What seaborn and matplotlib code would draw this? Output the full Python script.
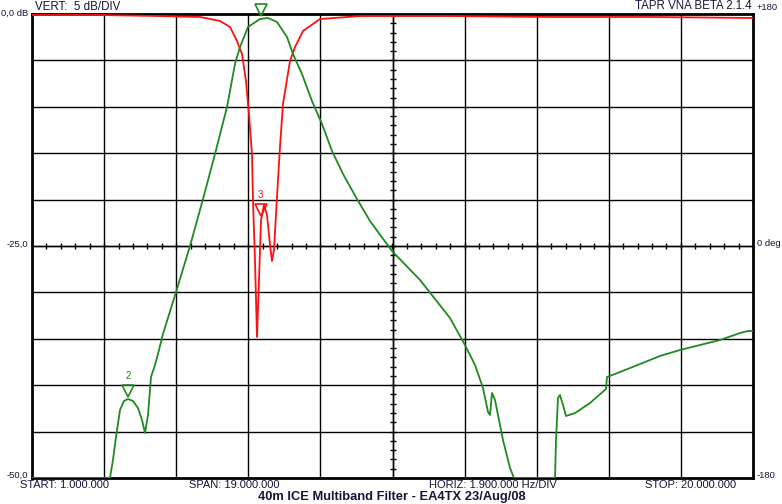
import numpy as np
import pandas as pd
import seaborn as sns
from matplotlib import pyplot as plt

# S21 (transmission) trace, MHz / dB
s21_freq = [1.0, 3.055, 3.134, 3.214, 3.319, 3.424, 3.530, 3.662, 3.793, 3.899, 3.978,
            4.057, 4.136, 4.241, 4.320, 4.452, 4.795, 5.164, 5.506, 5.822, 6.139, 6.349,
            6.481, 6.692, 7.008, 7.219, 7.456, 7.720, 7.878, 8.115, 8.379, 8.642, 8.906,
            9.196, 9.565, 9.907, 10.487, 11.225, 12.015, 12.410, 12.674, 12.885, 13.017,
            13.069, 13.122, 13.201, 13.412, 13.596, 13.702, 14.783, 14.809, 14.861,
            14.914, 14.993, 15.072, 15.309, 15.704, 16.126, 16.152, 16.495, 17.022,
            17.549, 18.076, 18.603, 19.130, 19.657, 19.868, 20.0]
s21_db = [-50.0, -50.0, -48.06, -45.58, -42.67, -41.70, -41.49, -41.70, -42.46, -43.75,
          -45.15, -43.21, -39.12, -37.82, -36.64, -34.48, -29.96, -25.00, -19.94, -15.09,
          -10.02, -5.39, -3.56, -1.40, -0.54, -0.43, -0.86, -2.48, -4.31, -6.47, -9.38,
          -11.85, -14.76, -17.24, -19.94, -22.31, -25.54, -28.66, -32.76, -35.67, -37.82,
          -40.30, -42.89, -43.21, -40.84, -41.59, -45.91, -48.92, -50.0, -50.0, -45.91,
          -41.38, -41.06, -42.13, -43.32, -43.00, -41.92, -40.41, -39.12, -38.58, -37.72,
          -36.85, -36.21, -35.67, -35.13, -34.38, -34.16, -34.16]

# S11 (return loss) trace
s11_freq = [1.0, 2.792, 4.373, 5.427, 5.954, 6.218, 6.402, 6.534, 6.639, 6.718, 6.797,
            6.824, 6.876, 6.929, 6.982, 7.035, 7.114, 7.193, 7.272, 7.324, 7.377, 7.456,
            7.535, 7.614, 7.799, 7.931, 8.142, 8.590, 9.644, 12.015, 14.651, 17.286, 20.0]
s11_db = [-0.11, -0.11, -0.22, -0.32, -0.75, -1.40, -2.91, -4.31, -7.22, -10.78, -15.09,
          -20.15, -26.51, -34.81, -28.66, -22.20, -20.58, -21.66, -24.89, -26.62, -25.43,
          -19.72, -14.33, -9.70, -5.06, -3.56, -1.83, -0.54, -0.22, -0.22, -0.32, -0.32,
          -0.43]

# markers: label, freq, level, trace
marker_labels = ["1", "2", "3"]
marker_freq = [7.03, 3.53, 7.03]
marker_db = [-0.5, -41.5, -22.0]
marker_trace = ["s21", "s21", "s11"]

start, stop = 1.0, 20.0
ref_top, ref_bottom = 0.0, -50.0

GREEN = "#1f8a1f"
RED = "#ff1010"
TXT = "#15153a"

sns.set_style("white")
plt.rcParams["font.family"] = ["Liberation Sans", "DejaVu Sans"]

s21 = pd.DataFrame({"freq": s21_freq, "db": s21_db})
s11 = pd.DataFrame({"freq": s11_freq, "db": s11_db})

fig = plt.figure(figsize=(7.82, 5.04), dpi=100)
ax = fig.add_axes([32 / 782, 1 - 478 / 504, 721 / 782, 464 / 504])

xdiv = (stop - start) / 10
ydiv = (ref_top - ref_bottom) / 10
xgrid = [start + i * xdiv for i in range(11)]
ygrid = [ref_bottom + i * ydiv for i in range(11)]
for gx in xgrid[1:-1]:
    ax.axvline(gx, color="black", lw=1.0, zorder=1)
for gy in ygrid[1:-1]:
    ax.axhline(gy, color="black", lw=1.0, zorder=1)

# center graticule with minor ticks
xc = (start + stop) / 2
yc = (ref_top + ref_bottom) / 2
minor_x = np.arange(start, stop + 1e-9, xdiv / 5)
minor_y = np.arange(ref_bottom, ref_top + 1e-9, ydiv / 5)
ax.plot(minor_x, [yc] * len(minor_x), color="black", lw=1.0, marker="|", ms=5, zorder=1)
ax.plot([xc] * len(minor_y), minor_y, color="black", lw=1.0, marker="_", ms=5, zorder=1)

sns.lineplot(data=s11, x="freq", y="db", color=RED, lw=1.3, ax=ax, estimator=None, zorder=3)
sns.lineplot(data=s21, x="freq", y="db", color=GREEN, lw=1.3, ax=ax, estimator=None, zorder=3)

for lab, f, d, tr in zip(marker_labels, marker_freq, marker_db, marker_trace):
    c = GREEN if tr == "s21" else RED
    ax.plot(f, d + 0.9, marker="v", ms=8, mfc="none", mec=c, mew=1.2,
            clip_on=False, zorder=4)
    if lab != "1":
        ax.text(f, d + 2.0, lab, color=c, fontsize=7, ha="center", va="bottom", zorder=4)

ax.set_xlim(start, stop)
ax.set_ylim(ref_bottom, ref_top)
ax.set_xticks([])
ax.set_yticks([])
ax.set_xlabel("")
ax.set_ylabel("")
for sp in ax.spines.values():
    sp.set_visible(True)
    sp.set_color("black")
    sp.set_linewidth(2.0)

# scale annotations
fs = 6.8
fig.text(28 / 782, 1 - 13 / 504, "0,0 dB", fontsize=fs, color=TXT, ha="right", va="center")
fig.text(28 / 782, 1 - 244 / 504, "-25,0", fontsize=fs, color=TXT, ha="right", va="center")
fig.text(28 / 782, 1 - 475 / 504, "-50,0", fontsize=fs, color=TXT, ha="right", va="center")
fig.text(757 / 782, 1 - 7 / 504, "+180", fontsize=fs, color=TXT, ha="left", va="center")
fig.text(757 / 782, 1 - 243 / 504, "0 deg", fontsize=fs, color=TXT, ha="left", va="center")
fig.text(757 / 782, 1 - 476 / 504, "-180", fontsize=fs, color=TXT, ha="left", va="center")

fig.text(35 / 782, 1 - 7 / 504, "VERT:  5 dB/DIV", fontsize=8.3, color=TXT, ha="left", va="center")
fig.text(752 / 782, 1 - 6 / 504, "TAPR VNA BETA 2.1.4", fontsize=8.3, color=TXT,
         ha="right", va="center")

fs_b = 8.0
fig.text(20 / 782, 1 - 485 / 504, "START: 1.000.000", fontsize=fs_b, color=TXT, va="center")
fig.text(189 / 782, 1 - 485 / 504, "SPAN: 19.000.000", fontsize=fs_b, color=TXT, va="center")
fig.text(429 / 782, 1 - 485 / 504, "HORIZ: 1.900.000 Hz/DIV", fontsize=fs_b, color=TXT,
         va="center")
fig.text(645 / 782, 1 - 485 / 504, "STOP: 20.000.000", fontsize=fs_b, color=TXT, va="center")
fig.text(392 / 782, 1 - 497 / 504, "40m ICE Multiband Filter - EA4TX 23/Aug/08",
         fontsize=9.3, fontweight="bold", color=TXT, ha="center", va="center")

fig.savefig("out.png", dpi=100)
